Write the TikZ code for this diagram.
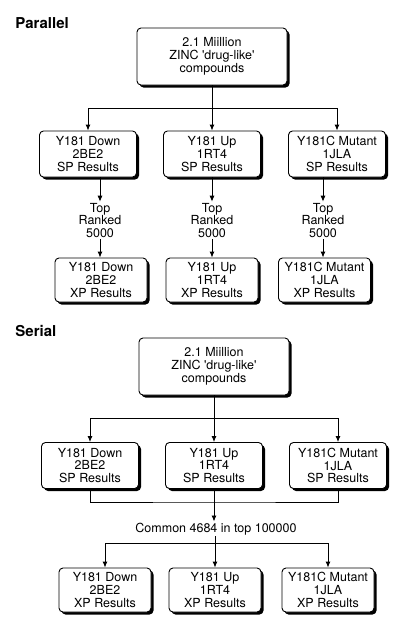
\documentclass[tikz,border=0pt]{standalone}
\usepackage{fontspec}
\setmainfont{TeX Gyre Heros}
\usetikzlibrary{arrows.meta,shadows}

\tikzset{
  box/.style={draw, fill=white, rounded corners=4pt, align=center, inner sep=0pt,
    font=\fontsize{12.5}{12.7}\selectfont,
    drop shadow={shadow xshift=2.5pt, shadow yshift=-2.5pt, fill=black, opacity=1}},
  big/.style={box, minimum width=150pt, minimum height=57pt},
  sp/.style={box, minimum width=97pt, minimum height=46pt},
  xp/.style={box, minimum width=92pt, minimum height=44pt},
  lbl/.style={align=center, inner sep=1pt, font=\fontsize{12.5}{12.7}\selectfont},
  ttl/.style={anchor=west, inner sep=0pt, font=\fontsize{15}{15}\selectfont\bfseries},
  arr/.style={-{Latex[length=6pt,width=5pt]}},
}

\begin{document}
\begin{tikzpicture}[x=1pt, y=-1pt, line width=0.9pt]
  \useasboundingbox (0,0) rectangle (400,627);

  % parallel
  \node[ttl] (tP) at (15,23) {Parallel};
  \node[big] (pT) at (212,56.5) {2.1 Miillion\\ZINC \textquotesingle drug-like\textquotesingle\\compounds};
  \node[sp] (p1) at (88,154) {Y181 Down\\2BE2\\SP Results};
  \node[sp] (p2) at (212,154) {Y181 Up\\1RT4\\SP Results};
  \node[sp] (p3) at (337,154) {Y181C Mutant\\1JLA\\SP Results};
  \node[lbl] (r1) at (100,220.5) {Top\\Ranked\\5000};
  \node[lbl] (r2) at (212,220.5) {Top\\Ranked\\5000};
  \node[lbl] (r3) at (323,220.5) {Top\\Ranked\\5000};
  \node[xp] (q1) at (101,280) {Y181 Down\\2BE2\\XP Results};
  \node[xp] (q2) at (212,280) {Y181 Up\\1RT4\\XP Results};
  \node[xp] (q3) at (324.5,280) {Y181C Mutant\\1JLA\\XP Results};
  \coordinate (pJ) at (212,108);

  \draw (pT) -- (pJ);
  \draw[arr] (pJ) -| (p1);
  \draw[arr] (pJ) -- (p2);
  \draw[arr] (pJ) -| (p3);
  \foreach \i in {1,2,3} {
    \draw[arr] (p\i.south -| r\i) -- (r\i);
    \draw[arr] (r\i) -- (r\i |- q\i.north);
  }

  % serial
  \node[ttl] (tS) at (15,331) {Serial};
  \node[big] (sT) at (214,366.5) {2.1 Miillion\\ZINC \textquotesingle drug-like\textquotesingle\\compounds};
  \node[sp] (s1) at (90,465.5) {Y181 Down\\2BE2\\SP Results};
  \node[sp] (s2) at (214,465.5) {Y181 Up\\1RT4\\SP Results};
  \node[sp] (s3) at (338,465.5) {Y181C Mutant\\1JLA\\SP Results};
  \node[lbl] (com) at (216,529) {Common 4684 in top 100000};
  \node[xp] (x1) at (105,590) {Y181 Down\\2BE2\\XP Results};
  \node[xp] (x2) at (215,590) {Y181 Up\\1RT4\\XP Results};
  \node[xp] (x3) at (328,590) {Y181C Mutant\\1JLA\\XP Results};
  \coordinate (sJ) at (214,418);
  \coordinate (sK) at (214,502);
  \coordinate (sL) at (215,543);

  \draw (sT) -- (sJ);
  \draw[arr] (sJ) -| (s1);
  \draw[arr] (sJ) -- (s2);
  \draw[arr] (sJ) -| (s3);
  \draw (s1) |- (sK) -| (s3);
  \draw (s2) -- (sK);
  \draw[arr] (sK) -- (sK |- com.north);
  \draw (com.south -| sL) -- (sL);
  \draw[arr] (sL) -| (x1);
  \draw[arr] (sL) -- (x2);
  \draw[arr] (sL) -| (x3);
\end{tikzpicture}
\end{document}
